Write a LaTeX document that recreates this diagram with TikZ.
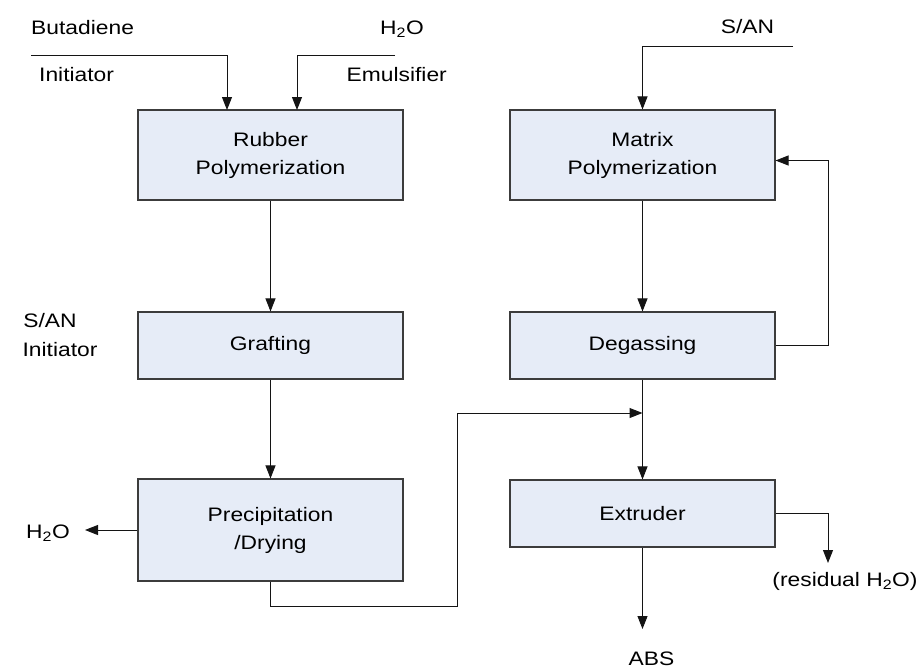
\documentclass[tikz,border=0pt]{standalone}
\usepackage{fontspec}
\setmainfont{Liberation Sans}[FakeStretch=1.17]
\usetikzlibrary{arrows.meta,calc}
\definecolor{boxfill}{RGB}{230,236,247}
\definecolor{boxline}{RGB}{60,60,60}
\definecolor{wire}{RGB}{20,20,20}
\begin{document}
\begin{tikzpicture}[x=1pt,y=-1pt,
  every node/.style={font=\fontsize{19.5}{28}\selectfont, inner sep=0pt},
  procbox/.style={draw=boxline, line width=1.1pt, fill=boxfill, rectangle,
     minimum width=265pt, align=center},
  lbl/.style={anchor=base},
  wireline/.style={draw=wire, line width=1pt},
  arr/.style={wireline, -{Triangle[width=10pt,length=13pt]}}]
\useasboundingbox (0,0) rectangle (922,670);

% process boxes
\node[procbox, minimum height=90pt] (rubber) at (270.5,155) {Rubber\\Polymerization};
\node[procbox, minimum height=67pt] (graft) at (270.5,345.5) {Grafting};
\node[procbox, minimum height=102pt] (precip) at (270.5,530) {Precipitation\\/Drying};
\node[procbox, minimum height=90pt] (matrix) at (642.5,155) {Matrix\\Polymerization};
\node[procbox, minimum height=67pt] (degas) at (642.5,345.5) {Degassing};
\node[procbox, minimum height=67pt] (extr) at (642.5,513.5) {Extruder};

% labels
\node[lbl, anchor=base west] (butad) at (31,34) {Butadiene};
\node[lbl, anchor=base west] (init1) at (39,81) {Initiator};
\node[lbl, anchor=base east] (h2otop) at (424,34) {H\textsubscript{2}O};
\node[lbl, anchor=base east] (emul) at (447,81) {Emulsifier};
\node[lbl] (santop) at (747.5,33) {S/AN};
\node[lbl] (sanleft) at (50,327) {S/AN};
\node[lbl] (init2) at (60,356) {Initiator};
\node[lbl, anchor=base west] (h2oleft) at (26,538) {H\textsubscript{2}O};
\node[lbl] (abs) at (651.5,665) {ABS};
\node[lbl] (resid) at (845,586) {(residual H\textsubscript{2}O)};

% free ends
\coordinate (bstart) at (31,55);
\coordinate (bend) at (227,110);
\coordinate (wstart) at (395,55);
\coordinate (wend) at (297,110);
\coordinate (sstart) at (793,46);
\coordinate (h2otip) at (85,530);
\coordinate (bend1) at (457,413);
\coordinate (merge) at (642.5,413);
\coordinate (fbx) at (828,345.5);
\coordinate (restip) at (828,563);
\coordinate (abstip) at (642.5,629);

% connectors
\draw[arr] (bstart) -| (bend);
\draw[arr] (wstart) -| (wend);
\draw[arr] (sstart) -| (matrix.north);
\draw[arr] (rubber.south) -- (graft.north);
\draw[arr] (graft.south) -- (precip.north);
\draw[arr] (precip.west) -- (h2otip);
\draw[arr] (matrix.south) -- (degas.north);
\draw[arr] (degas.south) -- (extr.north);
\draw[arr] (precip.south) -- ++(0,25) -| (bend1) -- (merge);
\draw[arr] (degas.east) -- (fbx) |- ([yshift=-5.5pt]matrix.east);
\draw[arr] (extr.east) -| (restip);
\draw[arr] (extr.south) -- (abstip);
\end{tikzpicture}
\end{document}
